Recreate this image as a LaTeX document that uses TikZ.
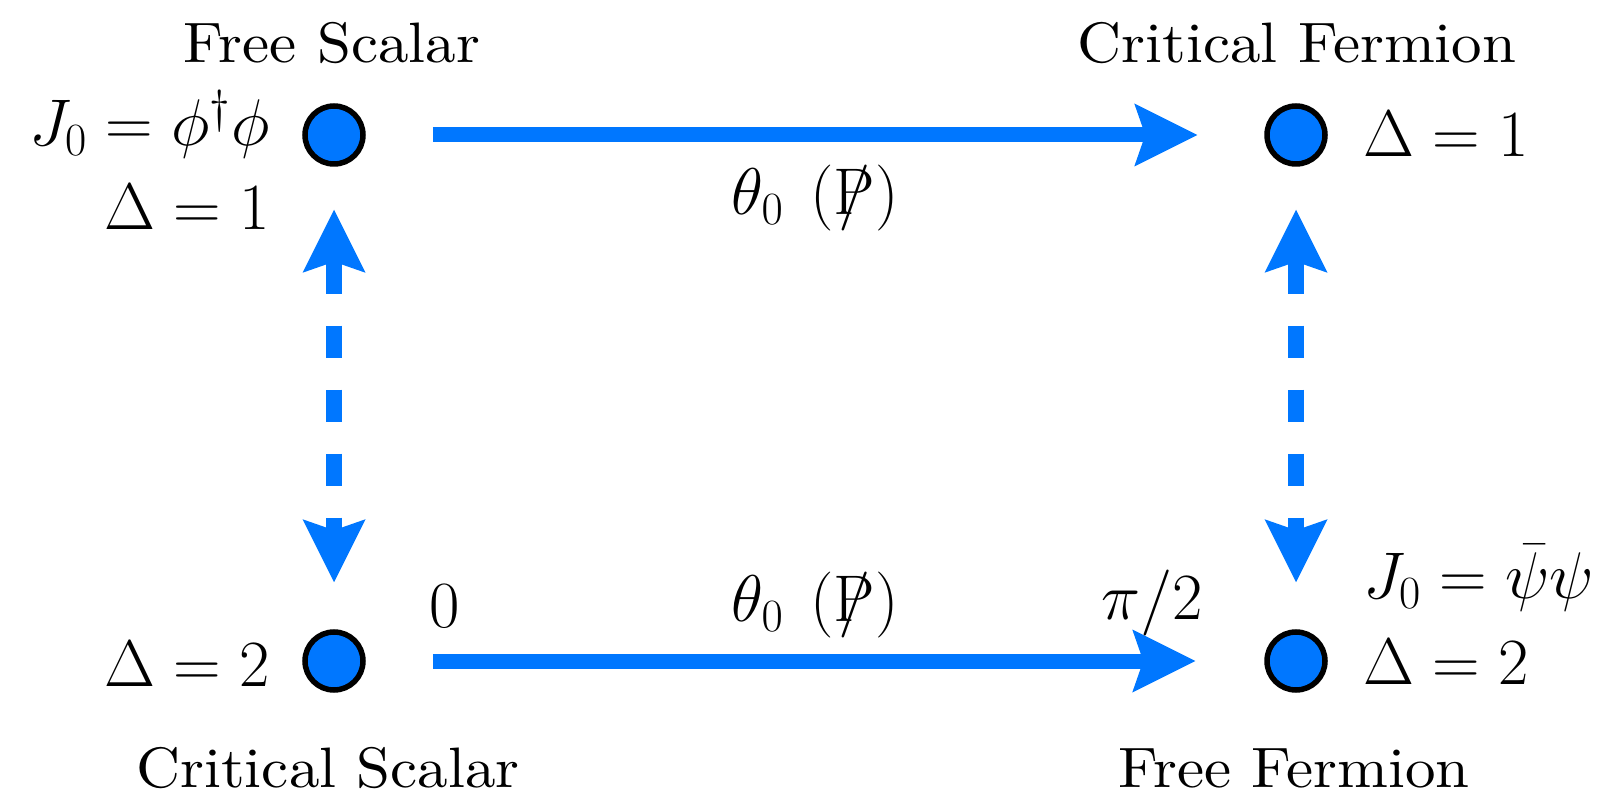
\RequirePackage{fix-cm}
\documentclass[tikz,border=0pt]{standalone}
\usepackage{graphicx}
\usetikzlibrary{arrows.meta}
\definecolor{fblue}{RGB}{0,119,255}
\newcommand{\slP}{\mathord{\ooalign{$\mathrm{P}$\cr\hidewidth$/$\hidewidth\cr}}}
\newcommand{\bigtxt}[1]{\scalebox{3.05}[2.85]{\fontsize{10}{12}\selectfont #1}}
\begin{document}
\begin{tikzpicture}[x=0.5pt,y=-0.5pt,
  dot/.style={circle,draw=black,fill=fblue,line width=2.75pt,minimum size=29pt,inner sep=0pt},
  lab/.style={inner sep=0pt},
  mlab/.style={inner sep=0pt,font=\fontsize{33}{40}\selectfont},
  tip/.tip={Stealth[length=31.5pt,width=31.5pt,inset=5.5pt,line width=0pt]},
  harrow/.style={draw=fblue,line width=7.5pt,-tip},
  varrow/.style={draw=fblue,line width=8.25pt,dash pattern=on 16pt off 16pt,tip-tip},
]
\useasboundingbox (0,0) rectangle (1602,796);
% dots
\node[dot] (FS) at (334,135) {};
\node[dot] (CF) at (1296,135) {};
\node[dot] (CS) at (334,661) {};
\node[dot] (FF) at (1296,661) {};
% connectors
\draw[harrow,shorten <=33.5pt,shorten >=33.5pt] (FS) -- (CF);
\draw[harrow,shorten <=33.5pt,shorten >=34.5pt] (CS) -- (FF);
\draw[varrow,shorten <=21.5pt,shorten >=23.5pt] (FS) -- (CS);
\draw[varrow,shorten <=21.5pt,shorten >=23.5pt] (CF) -- (FF);
% labels
\node[lab,anchor=base] (tFS) at (332,63) {\bigtxt{Free Scalar}};
\node[mlab,anchor=base east] (jFS) at (270,146) {$J_0=\phi^\dagger\phi$};
\node[mlab,anchor=base east] (dFS) at (270,230) {$\Delta=1$};
\node[lab,anchor=base] (tCF) at (1297,63) {\bigtxt{Critical Fermion}};
\node[mlab,anchor=base west] (dCF) at (1363,157) {$\Delta=1$};
\node[mlab,anchor=base east] (dCS) at (270,686) {$\Delta=2$};
\node[mlab,anchor=base] (zero) at (445,627) {$0$};
\node[lab,anchor=base] (tCS) at (328,787) {\bigtxt{Critical Scalar}};
\node[mlab,anchor=base west] (jFF) at (1363,599) {$J_0=\bar\psi\psi$};
\node[mlab,anchor=base west] (dFF) at (1363,684) {$\Delta=2$};
\node[mlab,anchor=base west] (pi2) at (1101,619) {$\pi/2$};
\node[lab,anchor=base] (tFF) at (1294,787) {\bigtxt{Free Fermion}};
\node[mlab,anchor=base] (th1) at (815,215) {$\theta_0\hspace{0.4em}(\slP)$};
\node[mlab,anchor=base] (th2) at (815,622) {$\theta_0\hspace{0.4em}(\slP)$};
\end{tikzpicture}
\end{document}
